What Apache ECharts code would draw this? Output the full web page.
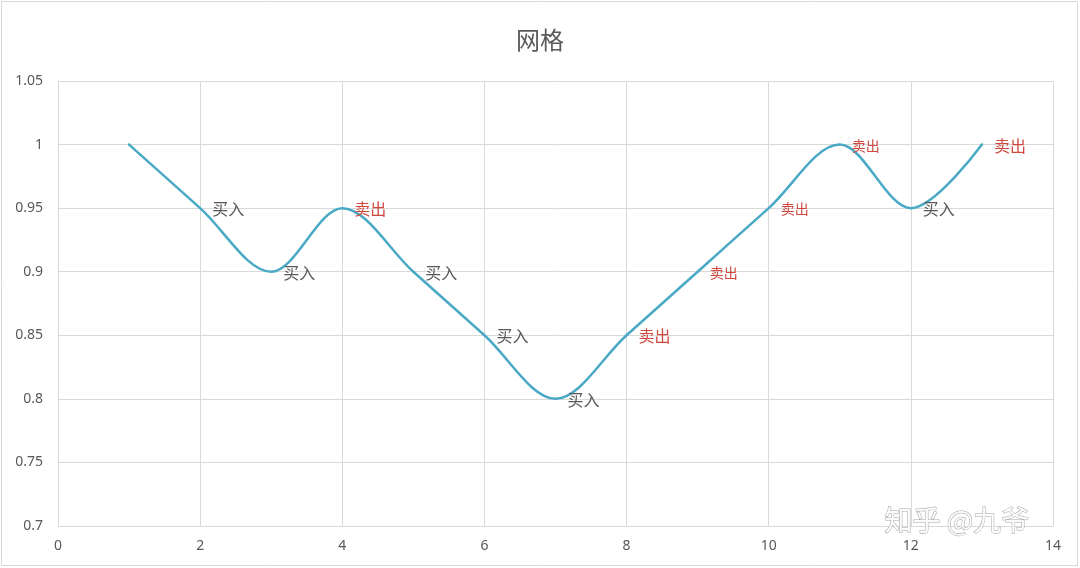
<!DOCTYPE html>
<html>
<head>
<meta charset="utf-8">
<script src="https://cdn.jsdelivr.net/npm/echarts@6/dist/echarts.min.js"></script>
<style>html,body{margin:0;padding:0;background:#fff}#c{width:1080px;height:568px}</style>
</head>
<body>
<div id="c"></div>
<script>
var titleText = '网格';
var xValues = [1, 2, 3, 4, 5, 6, 7, 8, 9, 10, 11, 12, 13];
var yValues = [1, 0.95, 0.9, 0.95, 0.9, 0.85, 0.8, 0.85, 0.9, 0.95, 1, 0.95, 1];
var actions = ['', '买入', '买入', '卖出', '买入', '买入', '买入', '卖出', '卖出', '卖出', '卖出', '买入', '卖出'];
var watermark = '知乎 @九爷';

var smallIdx = {8: true, 9: true, 10: true};
var data = xValues.map(function (x, i) {
  var a = actions[i];
  return {
    value: [x, yValues[i]],
    label: {
      show: a !== '',
      formatter: a,
      color: a === '卖出' ? '#d0493f' : '#595959',
      fontSize: smallIdx[i] ? 14 : 16
    }
  };
});

var chart = echarts.init(document.getElementById('c'));
chart.setOption({
  animation: false,
  title: {
    text: titleText, left: 'center', top: 23,
    textStyle: {fontSize: 24, fontWeight: 'normal', color: '#595959', fontFamily: 'Noto Sans CJK SC'}
  },
  grid: {left: 58, right: 27, top: 81, bottom: 42, containLabel: false},
  xAxis: {
    type: 'value', min: 0, max: 14, interval: 2,
    axisLine: {show: true, lineStyle: {color: '#d9d9d9', width: 1}},
    axisTick: {show: false},
    splitLine: {show: true, lineStyle: {color: '#d9d9d9', width: 1}},
    axisLabel: {color: '#595959', fontSize: 14, margin: 13, fontFamily: 'Noto Sans'}
  },
  yAxis: {
    type: 'value', min: 0.7, max: 1.05, interval: 0.05,
    axisLine: {show: true, lineStyle: {color: '#d9d9d9', width: 1}},
    axisTick: {show: false},
    splitLine: {show: true, lineStyle: {color: '#d9d9d9', width: 1}},
    axisLabel: {
      color: '#595959', fontSize: 14, margin: 15, fontFamily: 'Noto Sans',
      formatter: function (v) { return String(parseFloat(v.toFixed(2))); }
    }
  },
  series: [{
    type: 'line',
    data: data,
    smooth: 0.34,
    symbol: 'circle',
    symbolSize: 2,
    itemStyle: {color: '#4aa9c5'},
    lineStyle: {color: '#4aa9c5', width: 2.5, cap: 'round'},
    label: {position: 'right', distance: 11, offset: [0, 1], fontFamily: 'Noto Sans CJK SC'},
    z: 3
  }],
  graphic: [
    {type: 'rect', shape: {x: 1.5, y: 1.5, width: 1076, height: 564}, style: {fill: 'none', stroke: '#d9d9d9', lineWidth: 1}, z: -1},
    {type: 'text', left: 884, top: 506, style: {text: watermark, fontSize: 28, fontFamily: 'Noto Sans CJK SC', fill: 'rgba(255,255,255,0.9)', stroke: '#a8a8a8', lineWidth: 1}, z: 10}
  ]
});
</script>
</body>
</html>
